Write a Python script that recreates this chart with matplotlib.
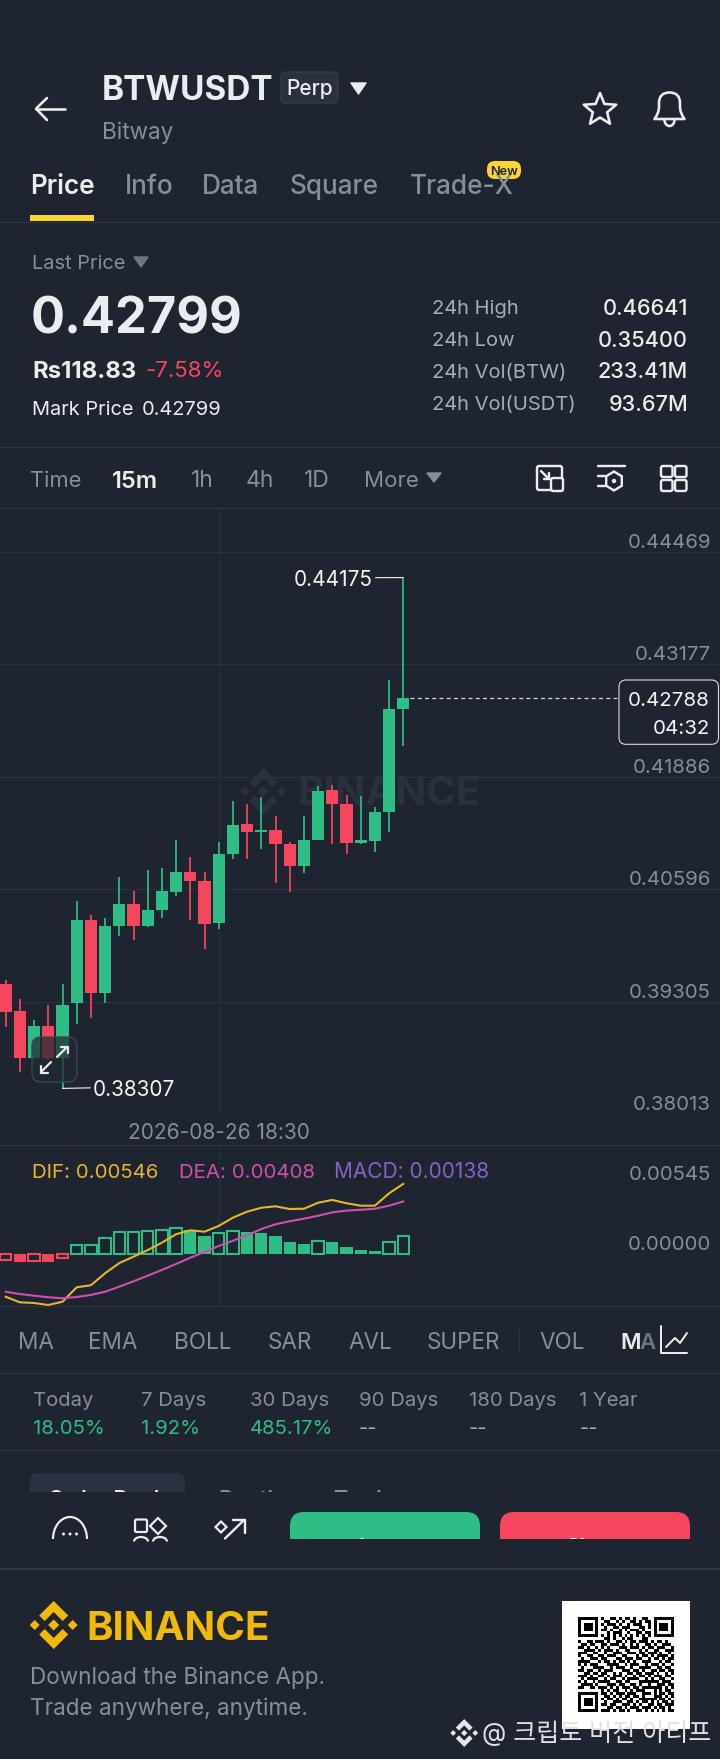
import numpy as np
import matplotlib
matplotlib.use('Agg')
import matplotlib.pyplot as plt
from matplotlib.patches import FancyBboxPatch, Polygon, Rectangle, Arc, Circle, PathPatch
from matplotlib.path import Path

plt.rcParams['font.family'] = ['Inter', 'Noto Sans CJK KR', 'DejaVu Sans']

# ---------- data ----------
opens = [.39503, .39199, .38660, .39024, .38660, .39284, .40241, .39399, .40169, .40425,
         .40176, .40356, .40567, .40793, .40689, .40207, .41000, .41348, .41256, .41279,
         .41118, .40865, .41160, .41731, .41574, .41129, .41149, .41479, .42665]
highs = [.39552, .39334, .39093, .39265, .39503, .40460, .40299, .40261, .40739, .40571,
         .40816, .40842, .41160, .40962, .40793, .41132, .41612, .41574, .41651, .41436,
         .41137, .41436, .41784, .41792, .41677, .41666, .41536, .42999, .44175]
lows = [.39016, .38499, .38650, .38633, .38307, .39050, .39112, .39284, .40058, .40012,
        .40158, .40261, .40521, .40241, .39905, .40141, .40939, .40946, .41057, .40666,
        .40567, .40778, .41160, .41111, .41000, .41115, .41023, .41256, .42240]
closes = [.39185, .38660, .39024, .38660, .39265, .40241, .39399, .40172, .40425, .40176,
          .40356, .40571, .40793, .40689, .40195, .41000, .41333, .41252, .41279, .41118,
          .40865, .41160, .41723, .41574, .41129, .41160, .41479, .42665, .42788]
price_ticks = [.44469, .43177, .41886, .40596, .39305, .38013]
last_price = .42788
date_index = [15]
date_label = ['2026-08-26 18:30']

macd_hist = [-.00049, -.00069, -.00059, -.00067, -.00035, .00067, .00067, .00119, .00166, .00169,
             .00176, .00187, .00200, .00184, .00140, .00158, .00176, .00169, .00163, .00137,
             .00093, .00077, .00100, .00093, .00053, .00025, .00022, .00093, .00138]
dif = [-.00339, -.00383, -.00388, -.00404, -.00378, -.00265, -.00249, -.00155, -.00075, -.00025,
       .00027, .00085, .00151, .00182, .00171, .00216, .00281, .00328, .00359, .00370,
       .00349, .00351, .00398, .00420, .00394, .00375, .00375, .00472, .00546]
dea = [-.00300, -.00318, -.00331, -.00343, -.00351, -.00341, -.00325, -.00300, -.00260, -.00218,
       -.00174, -.00129, -.00082, -.00033, .00012, .00059, .00100, .00143, .00192, .00229,
       .00253, .00273, .00296, .00323, .00336, .00343, .00351, .00375, .00408]
macd_ticks = [.00545, .00000]

return_labels = ['Today', '7 Days', '30 Days', '90 Days', '180 Days', '1 Year']
return_values = ['18.05%', '1.92%', '485.17%', '--', '--', '--']
stat_labels = ['24h High', '24h Low', '24h Vol(BTW)', '24h Vol(USDT)']
stat_values = ['0.46641', '0.35400', '233.41M', '93.67M']
qr_rows = [
 "000000001001101011010011000000000",
 "000000000110010100110101100000000",
 "000000001011101001011100100000000",
 "000000000100110111000110100000000",
 "000000001101001010111010000000000",
 "000000000010111001001101100000000",
 "000000001010101010101010100000000",
 "000000000110100101100011000000000",
 "100110111010011010110111010110100",
 "011011001101110100101001101001110",
 "110100101010001110111010110111001",
 "001111010111010011000101001100111",
 "111001100100111001110110111010010",
 "100110011011100110001011010111101",
 "010011101100011011101100101101011",
 "111100010110101101010011100010110",
 "101011100011110010111001011101001",
 "010001111001011100100111100110110",
 "110110010111000111011010011011011",
 "001101101100101001101101110100101",
 "111010011010111010010110101110110",
 "010111100101100101111001010011001",
 "101001011110011011000111111101110",
 "011110100011101100110100100111011",
 "110011011101010111011011111110101",
 "000000001010110010101110001010110",
 "000000001101011101110011101011011",
 "000000000110101011011010001110101",
 "000000001011010110100111111011010",
 "000000000100111001101011010101101",
 "000000001101100111010100110110111",
 "000000000011011010111011101011010",
 "000000001110101101001101010101011",
]

# ---------- style ----------
BG = '#1f2530'
GRID = '#2c323c'
SEP = '#2d333f'
GRAY = '#848e9c'
LGRAY = '#a7adb8'
WHITE = '#eaecef'
GREEN = '#2ebd85'
RED = '#f6465d'
YEL = '#fcd535'
W, H = 720, 1759
X0 = 5.7
DX = 14.2

fig = plt.figure(figsize=(W / 100, H / 100), dpi=100, facecolor=BG)

def px_axes(z):
    a = fig.add_axes([0, 0, 1, 1], zorder=z)
    a.set_xlim(0, W)
    a.set_ylim(H, 0)
    a.axis('off')
    a.patch.set_alpha(0)
    return a

back = px_axes(0)
ui = px_axes(5)

def T(x, y, s, size, color=GRAY, ha='left', weight='normal', ax=None, **kw):
    a = ax or ui
    px = size * 100 / 72
    return a.text(x, y + 0.364 * px, s, fontsize=size, color=color, ha=ha, va='baseline',
                  fontweight=weight, **kw)

def L(xs, ys, color=WHITE, lw=2.4, ax=None, **kw):
    a = ax or ui
    kw.setdefault('solid_capstyle', 'round')
    kw.setdefault('solid_joinstyle', 'round')
    a.plot(xs, ys, color=color, lw=lw * .72, **kw)

def RB(x0, y0, x1, y1, r, fc='none', ec='none', lw=1.4, ax=None, **kw):
    a = ax or ui
    p = FancyBboxPatch((x0 + r, y0 + r), x1 - x0 - 2 * r, y1 - y0 - 2 * r,
                       boxstyle=f'round,pad={r},rounding_size={r}', fc=fc, ec=ec, lw=lw * .72, **kw)
    a.add_patch(p)
    return p

def TRI(x0, x1, y0, y1, color):
    ui.add_patch(Polygon([(x0, y0), (x1, y0), ((x0 + x1) / 2, y1)], closed=True, fc=color, ec=color,
                         lw=1, joinstyle='round'))

def SEPL(y, lw=1.2, color=SEP):
    ui.plot([0, W], [y, y], color=color, lw=lw * .72)

def LOGO(ax, cx, cy, s, color, **kw):
    pts = [
        [(0, -5.5), (5.5, 0), (0, 5.5), (-5.5, 0)],
        [(-19 - 5, 0), (-19, -5), (-19 + 5, 0), (-19, 5)],
        [(19 - 5, 0), (19, -5), (19 + 5, 0), (19, 5)],
        [(-14.5, -9.5), (0, -24), (14.5, -9.5), (9, -4), (0, -13), (-9, -4)],
        [(-14.5, 9.5), (0, 24), (14.5, 9.5), (9, 4), (0, 13), (-9, 4)],
    ]
    for p in pts:
        ax.add_patch(Polygon([(cx + a * s, cy + b * s) for a, b in p], closed=True, fc=color, ec='none', **kw))

# ---------- candle panel ----------
x = np.arange(len(opens))
ax = fig.add_axes([0, 1 - 1114 / H, 1, (1114 - 508) / H], zorder=2)
ax.patch.set_alpha(0)
scale = (.44469 - .38013) / 562
ax.set_ylim(.38013, .44469 + 44 * scale)
ax.set_xlim(-X0 / DX, (W - X0) / DX)
for s in ax.spines.values():
    s.set_visible(False)
ax.set_yticks(price_ticks, [f'{v:.5f}' for v in price_ticks])
ax.yaxis.tick_right()
ax.tick_params(axis='y', length=0, pad=-6.6, labelcolor=GRAY, labelsize=14.7)
for lb in ax.get_yticklabels():
    lb.set_ha('right')
    lb.set_va('bottom')
ax.set_xticks(date_index, date_label)
ax.tick_params(axis='x', length=0, pad=6.5, labelcolor=GRAY, labelsize=15)
ax.grid(True, color=GRID, lw=.8)
ax.set_axisbelow(True)
for i in x:
    c = GREEN if closes[i] >= opens[i] else RED
    ax.vlines(i, lows[i], highs[i], color=c, lw=1.25, zorder=3)
    b, t = min(opens[i], closes[i]), max(opens[i], closes[i])
    ax.bar(i, t - b, bottom=b, width=.85, color=c, zorder=3)
ax.hlines(last_price, 28.45, (619 - X0) / DX, color='#d5d8dd', lw=.9, linestyles=(0, (3.2, 2.6)), zorder=3)
hi_i = int(np.argmax(highs))
lo_i = int(np.argmin(lows))
ax.annotate(f'{highs[hi_i]:.5f}', xy=(hi_i, highs[hi_i]), xytext=(-22, -1.5), textcoords='offset points',
            ha='right', va='center', color='#f3f4f6', fontsize=14.9,
            arrowprops=dict(arrowstyle='-', color='#f3f4f6', lw=.8, shrinkA=0, shrinkB=0,
                            relpos=(1, .6)))
ax.annotate(f'{lows[lo_i]:.5f}', xy=(lo_i, lows[lo_i]), xytext=(22, -1), textcoords='offset points',
            ha='left', va='center', color='#f3f4f6', fontsize=14.9,
            arrowprops=dict(arrowstyle='-', color='#f3f4f6', lw=.8, shrinkA=0, shrinkB=0,
                            relpos=(0, .6)))

# watermark
LOGO(back, 263.5, 791.5, .98, '#2a313e')
T(297, 790, 'BINANCE', 29, '#2a313e', weight='bold', ax=back)

# ---------- MACD panel ----------
mx = fig.add_axes([0, 1 - 1305.7 / H, 1, (1305.7 - 1145) / H], zorder=2)
mx.patch.set_alpha(0)
u = 7.842e-5
mx.set_ylim((1253.5 - 1305.7) * u, (1253.5 - 1145) * u)
mx.set_xlim(-X0 / DX, (W - X0) / DX)
for s in mx.spines.values():
    s.set_visible(False)
mx.set_yticks(macd_ticks, [f'{v:.5f}' for v in macd_ticks])
mx.yaxis.tick_right()
mx.tick_params(axis='y', length=0, pad=-6.6, labelcolor=GRAY, labelsize=14.7)
for lb in mx.get_yticklabels():
    lb.set_ha('right')
    lb.set_va('bottom')
mx.set_xticks(date_index, [''])
mx.tick_params(axis='x', length=0)
mx.grid(True, axis='x', color=GRID, lw=.8)
mx.set_axisbelow(True)
for i, v in enumerate(macd_hist):
    c = GREEN if v >= 0 else RED
    rising = i == 0 or v >= macd_hist[i - 1]
    if rising:
        mx.bar(i, v, width=.8, facecolor='none', edgecolor=c, lw=1.5, zorder=2)
    else:
        mx.bar(i, v, width=.85, color=c, zorder=2)
mx.plot(x, dif, color='#e5b52b', lw=1.5, zorder=3)
mx.plot(x, dea, color='#d04fae', lw=1.5, zorder=3)

# ---------- header ----------
T(102, 88, 'BTWUSDT', 24, WHITE, weight='bold')
RB(281, 72, 338, 103, 4, fc='#2b3040', ec='#3a4150', lw=1)
T(309.5, 87.5, 'Perp', 15, WHITE, ha='center', weight='medium')
TRI(351, 366, 83, 94, WHITE)
T(102.4, 131, 'Bitway', 16.2, GRAY)
L([36, 65], [108.7, 108.7], lw=2.6)
L([47, 36, 47], [98, 108.7, 120], lw=2.6)
ang = np.linspace(-np.pi / 2, 1.5 * np.pi, 11)[:-1]
rad = np.where(np.arange(10) % 2 == 0, 17, 7.5)
ui.add_patch(Polygon(np.c_[600 + rad * np.cos(ang), 110 + rad * np.sin(ang)], closed=True, fc='none', ec=WHITE,
                     lw=2.6 * .72, joinstyle='round'))
bell = Path([(654.5, 119), (659, 113), (659, 107), (659, 103), (659, 92.5), (669.5, 92.5), (680, 92.5),
             (680, 103), (680, 107), (680, 113), (684.5, 119), (654.5, 119)],
            [Path.MOVETO, Path.CURVE3, Path.CURVE3, Path.LINETO, Path.CURVE3, Path.CURVE3, Path.CURVE3,
             Path.CURVE3, Path.LINETO, Path.CURVE3, Path.CURVE3, Path.CLOSEPOLY])
ui.add_patch(PathPatch(bell, fc='none', ec=WHITE, lw=2.6 * .72, joinstyle='round'))
ui.add_patch(Arc((669.5, 120), 10, 12, theta1=0, theta2=180, ec=WHITE, lw=2.6 * .72))

tabs = [(30, 'Price'), (125, 'Info'), (201.5, 'Data'), (290, 'Square'), (410, 'Trade-X')]
for k, (xx, s) in enumerate(tabs):
    T(xx, 184, s, 18.8, WHITE if k == 0 else GRAY, weight='semibold' if k == 0 else 'medium')
RB(487, 161, 521, 179, 8, fc=YEL)
T(504, 170, 'New', 9.2, '#1e2329', ha='center', weight='semibold')
ui.add_patch(Rectangle((30, 215), 64, 6, fc=YEL, ec='none'))
SEPL(221.5)

T(32, 262, 'Last Price', 14.4, GRAY)
TRI(134, 148, 257, 267, '#6f7683')
T(31, 315, '0.42799', 36.3, WHITE, weight='bold')
T(32, 369, 'Rs118.83', 17.2, WHITE, weight='bold')
T(145.5, 369, '-7.58%', 16, RED)
T(32, 407.7, 'Mark Price', 14.4, WHITE)
T(141.4, 407.7, '0.42799', 14.4, WHITE)
for yy, a_, b_ in zip([307, 338.7, 370.3, 402.7], stat_labels, stat_values):
    T(432.5, yy, a_, 14.5, LGRAY)
    T(688, yy, b_, 15.6, WHITE, ha='right', weight='medium')
SEPL(447.3)

frames = [(30, 'Time', 0, 15.8), (112, '15m', 1, 17), (190.5, '1h', 0, 16.5), (246, '4h', 0, 16.5),
          (304.4, '1D', 0, 16.5), (363.5, 'More', 0, 16)]
for xx, s, act, fs in frames:
    T(xx, 479, s, fs, WHITE if act else GRAY, weight='semibold' if act else 'normal')
TRI(427, 441, 473, 482, GRAY)
# toolbar icons
RB(537, 466, 562, 490, 2, ec=WHITE, lw=2.4)
RB(551, 478, 563, 491, 2, fc=BG, ec=WHITE, lw=2.4)
L([541, 549], [471, 479])
L([549, 549, 544], [473, 479, 479])
L([598, 625], [466, 466])
L([598, 605], [476, 476])
L([598, 605], [486, 486])
hx = np.linspace(np.pi / 2, 2.5 * np.pi, 7)[:-1]
ui.add_patch(Polygon(np.c_[614 + 9 * np.cos(hx), 481 + 9.5 * np.sin(hx)], closed=True, fc='none', ec=WHITE, lw=2.4 * .72))
ui.add_patch(Circle((614, 481), 2.2, fc=WHITE))
for x0_ in (661, 675):
    for y0_ in (466, 480):
        RB(x0_, y0_, x0_ + 11.5, y0_ + 11, 2, ec=WHITE, lw=2.4)
SEPL(508)

# price box
RB(619, 680, 718.5, 744.3, 7, fc=BG, ec='#d9dce1', lw=1.1)
T(710, 698.7, '0.42788', 14.8, '#f3f4f6', ha='right')
T(710, 726.7, '04:32', 14.8, '#f3f4f6', ha='right')

# expand icon
RB(32, 1037, 77, 1082, 9, fc=(0.13, 0.16, 0.2, .72), ec='#3b4452', lw=1.4)
L([57, 67], [1057, 1047], lw=2.2)
L([61, 67.5, 67.5], [1046.5, 1046.5, 1053], lw=2.2)
L([51, 41], [1062, 1072], lw=2.2)
L([41, 41, 47.5], [1065.5, 1072.5, 1072.5], lw=2.2)

# MACD legend
T(32, 1170.7, 'DIF: 0.00546', 14.7, '#e5b52b')
T(178.6, 1170.7, 'DEA: 0.00408', 14.7, '#d04fae')
T(334, 1170.7, 'MACD: 0.00138', 15, '#8562c6')
SEPL(1145)
SEPL(1305.7)

# indicator row
for xx, s in [(18.4, 'MA'), (88.5, 'EMA'), (174, 'BOLL'), (267.2, 'SAR'), (348, 'AVL'), (426.5, 'SUPER'), (539, 'VOL')]:
    T(xx, 1341, s, 16.2, GRAY)
L([519, 519], [1330, 1352], color=SEP, lw=1)
T(620.7, 1341, 'M', 16, WHITE, weight='semibold')
T(639, 1341, 'A', 16, '#6f7683', weight='semibold')
L([661, 661, 687], [1326, 1352.5, 1352.5], lw=2)
L([666, 675, 680, 687], [1347, 1338, 1343, 1333], lw=2)
SEPL(1373.3)

for xx, a_, b_ in zip([33.5, 141.4, 250, 359, 469, 579.4], return_labels, return_values):
    T(xx, 1399, a_, 14.6, GRAY)
    T(xx, 1427, b_, 14.6, GREEN if b_ != '--' else LGRAY)
SEPL(1450.3)

# order book row, cut off by the bottom bar
clip1 = Rectangle((0, 1460), W, 32, transform=ui.transData)
pill = RB(30, 1473, 185, 1510, 8, fc='#2b3140')
pill.set_clip_path(clip1)
for xx, s, c in [(48, 'Order Book', WHITE), (218, 'Depth', GRAY), (333, 'Trades', GRAY)]:
    t = T(xx, 1498, s, 15.5, c, weight='semibold')
    t.set_clip_on(True)
    t.set_clip_path(clip1)

# action bar, cut off
clip2 = Rectangle((0, 1500), W, 39, transform=ui.transData)
for x0_, x1_, c, s in [(290, 480, GREEN, 'Long'), (500, 690, RED, 'Short')]:
    p = RB(x0_, 1512, x1_, 1570, 14, fc=c)
    p.set_clip_path(clip2)
    t = T((x0_ + x1_) / 2, 1546, s, 16, 'white', ha='center', weight='semibold')
    t.set_clip_on(True)
    t.set_clip_path(clip2)
a1 = Arc((70, 1539), 34, 44, theta1=180, theta2=360, ec=WHITE, lw=2.2 * .72)
ui.add_patch(a1)
for xx in (63.5, 70, 76.5):
    ui.add_patch(Circle((xx, 1534), 1.5, fc=WHITE))
RB(135, 1519.5, 147, 1532, 1.5, ec=WHITE, lw=2.2)
ui.add_patch(Polygon([(158, 1518), (166, 1526), (158, 1534), (150, 1526)], closed=True, fc='none', ec=WHITE, lw=2.2 * .72))
for c_ in (141, 160):
    arc = Arc((c_, 1541.5), 14, 9, theta1=180, theta2=360, ec=WHITE, lw=2.2 * .72)
    ui.add_patch(arc)
ui.add_patch(Polygon([(221, 1521.5), (226.5, 1527), (221, 1532.5), (215.5, 1527)], closed=True, fc='none', ec=WHITE, lw=2.2 * .72))
L([225, 244], [1538.5, 1520], lw=2.4)
L([233, 244.5, 244.5], [1520, 1520, 1533], lw=2.4)
SEPL(1569.3, lw=2.2)

# footer
LOGO(ui, 53.7, 1625, 1.0, '#f0b90b')
T(86, 1625, 'BINANCE', 29, '#f0b90b', weight='bold')
T(30.3, 1675.7, 'Download the Binance App.', 16.2, GRAY)
T(30.3, 1707.3, 'Trade anywhere, anytime.', 16.2, GRAY)
ui.add_patch(Rectangle((562, 1601), 128, 128, fc='white', ec='none'))
M = np.array([[int(ch) for ch in r.ljust(33, '0')[:33]] for r in qr_rows])
for r0, c0 in [(0, 0), (0, 26), (26, 0)]:
    M[r0:r0 + 7, c0:c0 + 7] = 1
    M[r0 + 1:r0 + 6, c0 + 1:c0 + 6] = 0
    M[r0 + 2:r0 + 5, c0 + 2:c0 + 5] = 1
ui.imshow(1 - M, cmap='gray', vmin=0, vmax=1, extent=(577.5, 673, 1712, 1617), aspect='auto',
          interpolation='nearest', zorder=3)
ui.set_xlim(0, W)
ui.set_ylim(H, 0)
LOGO(ui, 464.2, 1733, .58, '#e4e6ea', zorder=6)
T(481.5, 1732, '@ 크립토 버전 아티프', 18, '#dfe1e5', zorder=6)

fig.savefig('out.png', dpi=100, facecolor=BG)
